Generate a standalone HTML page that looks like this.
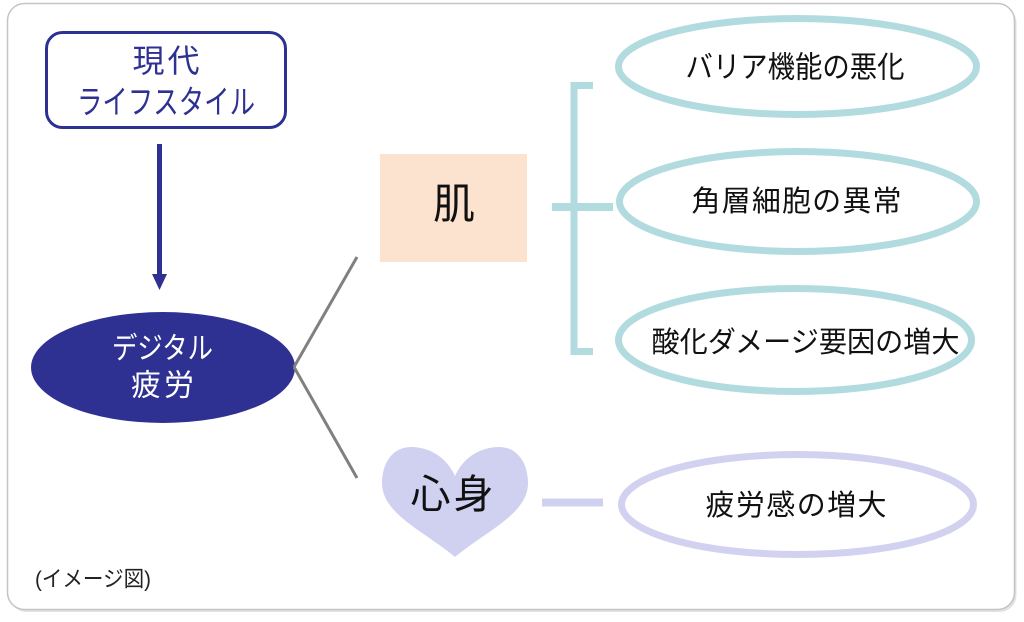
<!DOCTYPE html>
<html>
<head>
<meta charset="utf-8">
<style>
  html, body { margin:0; padding:0; background:#ffffff; }
  body { width:1024px; height:622px; overflow:hidden; }
  svg { display:block; }
  text { font-family: "Liberation Sans", "Noto Sans CJK JP", sans-serif; }
</style>
</head>
<body>
<svg width="1024" height="622" viewBox="0 0 1024 622" xmlns="http://www.w3.org/2000/svg">
  <!-- frame shadow + frame -->
  <rect x="9.5" y="6" width="1007" height="606" rx="17" fill="#e2e2e2"/>
  <rect x="7.5" y="3.5" width="1007" height="606" rx="17" fill="#ffffff" stroke="#c4c4c4" stroke-width="1.5"/>

  <!-- top box -->
  <rect x="46.5" y="32.5" width="239" height="95" rx="16" fill="#ffffff" stroke="#2f3192" stroke-width="3"/>
  <text x="166" y="61" font-size="32" fill="#2f3192" text-anchor="middle" dominant-baseline="central" textLength="67" lengthAdjust="spacing">現代</text>
  <text x="166" y="102" font-size="33" fill="#2f3192" text-anchor="middle" dominant-baseline="central" textLength="178" lengthAdjust="spacingAndGlyphs">ライフスタイル</text>

  <!-- arrow -->
  <line x1="159.5" y1="144" x2="159.5" y2="277" stroke="#2f3192" stroke-width="5"/>
  <polygon points="152,274 167,274 159.5,290" fill="#2f3192"/>

  <!-- digital fatigue ellipse -->
  <ellipse cx="163" cy="367.5" rx="132" ry="55.5" fill="#2f3192"/>
  <text x="162.5" y="349" font-size="30" fill="#ffffff" text-anchor="middle" dominant-baseline="central" textLength="101" lengthAdjust="spacingAndGlyphs">デジタル</text>
  <text x="162.5" y="386" font-size="30" fill="#ffffff" text-anchor="middle" dominant-baseline="central" textLength="63" lengthAdjust="spacing">疲労</text>

  <!-- gray connectors -->
  <line x1="294" y1="367" x2="357" y2="257" stroke="#808080" stroke-width="3"/>
  <line x1="294" y1="367" x2="357" y2="478" stroke="#808080" stroke-width="3"/>

  <!-- skin box -->
  <rect x="380" y="154" width="147" height="108" fill="#fbe3cf"/>
  <text x="454" y="204" font-size="42" fill="#111111" text-anchor="middle" dominant-baseline="central">肌</text>

  <!-- heart -->
  <path d="M455,476 C446,456 428,447 411,447 C392,447 382,464 382,483 C382,514 424,531 455,557 C486,531 528,514 528,483 C528,464 518,447 499,447 C482,447 464,456 455,476 Z" fill="#d0d0f0"/>
  <text x="452" y="495" font-size="40" fill="#111111" text-anchor="middle" dominant-baseline="central" textLength="83" lengthAdjust="spacing">心身</text>

  <!-- heart connector -->
  <rect x="542" y="498.5" width="61" height="8" fill="#d0d0f0"/>

  <!-- teal bracket -->
  <path d="M593,85.5 L574,85.5 L574,351.5 L593,351.5" fill="none" stroke="#b2dbdf" stroke-width="7"/>
  <rect x="552" y="203" width="61" height="8" fill="#b2dbdf"/>

  <!-- teal ellipses -->
  <ellipse cx="797.5" cy="66.5" rx="179" ry="48" fill="#ffffff" stroke="#b2dbdf" stroke-width="7"/>
  <text x="795" y="68" font-size="30" fill="#111111" text-anchor="middle" dominant-baseline="central" textLength="219" lengthAdjust="spacingAndGlyphs">バリア機能の悪化</text>

  <ellipse cx="798" cy="201.5" rx="178.5" ry="50" fill="#ffffff" stroke="#b2dbdf" stroke-width="7"/>
  <text x="796.5" y="202" font-size="29" fill="#111111" text-anchor="middle" dominant-baseline="central" textLength="210" lengthAdjust="spacing">角層細胞の異常</text>

  <ellipse cx="795" cy="340" rx="176.5" ry="51.5" fill="#ffffff" stroke="#b2dbdf" stroke-width="7"/>
  <text x="805.5" y="343" font-size="29" fill="#111111" text-anchor="middle" dominant-baseline="central" textLength="308" lengthAdjust="spacingAndGlyphs">酸化ダメージ要因の増大</text>

  <!-- lavender ellipse -->
  <ellipse cx="797.5" cy="504.5" rx="176" ry="50" fill="#ffffff" stroke="#d2d2f0" stroke-width="7"/>
  <text x="796" y="506" font-size="29" fill="#111111" text-anchor="middle" dominant-baseline="central" textLength="181" lengthAdjust="spacing">疲労感の増大</text>

  <!-- caption -->
  <text x="35" y="579" font-size="22" fill="#222222" dominant-baseline="central" textLength="116" lengthAdjust="spacingAndGlyphs">(イメージ図)</text>
</svg>
</body>
</html>
